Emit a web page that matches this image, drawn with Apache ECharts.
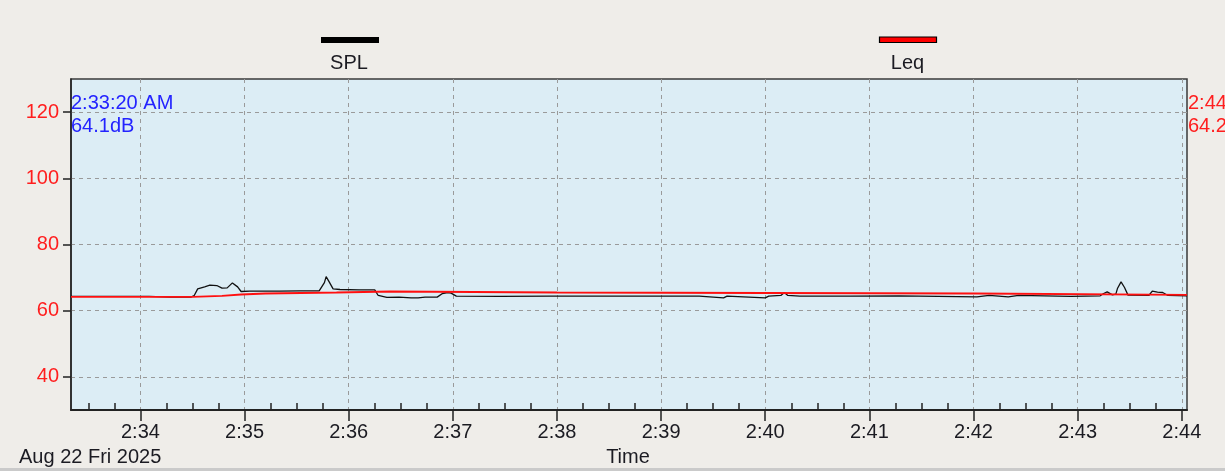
<!DOCTYPE html>
<html><head><meta charset="utf-8">
<script src="https://cdn.jsdelivr.net/npm/echarts@6/dist/echarts.min.js"></script>
<style>html,body{margin:0;padding:0;background:#efede9;overflow:hidden;}#c{width:1225px;height:471px;}</style>
</head><body><div id="c"></div>
<script>
// ---- data ----
const seriesNames = ['SPL', 'Leq'];
const splTimes = ['2:33:20','2:33:37','2:34:05','2:34:17','2:34:29','2:34:31','2:34:33','2:34:37','2:34:40','2:34:44','2:34:47','2:34:50','2:34:53','2:34:56','2:34:58','2:35:03','2:35:20','2:35:32','2:35:43','2:35:46','2:35:47','2:35:49','2:35:51','2:35:55','2:36:06','2:36:15','2:36:17','2:36:22','2:36:29','2:36:36','2:36:40','2:36:44','2:36:51','2:36:54','2:36:57','2:36:59','2:37:02','2:37:27','2:37:56','2:38:25','2:38:53','2:39:22','2:39:36','2:39:38','2:40:00','2:40:02','2:40:09','2:40:11','2:40:13','2:40:20','2:40:49','2:41:17','2:42:02','2:42:09','2:42:20','2:42:26','2:42:56','2:43:13','2:43:15','2:43:17','2:43:20','2:43:22','2:43:23','2:43:25','2:43:27','2:43:29','2:43:41','2:43:43','2:43:46','2:43:49','2:43:52','2:44:03'];
const splValues = [64.3,64.3,64.3,64.1,64.1,64.6,66.6,67.2,67.7,67.6,66.8,66.9,68.4,67.2,65.8,65.9,65.9,66.0,66.0,68.5,70.3,68.5,66.6,66.4,66.3,66.3,64.6,64.0,64.1,63.9,63.9,64.1,64.1,65.2,65.5,65.3,64.4,64.3,64.4,64.4,64.4,64.4,63.9,64.4,63.9,64.4,64.6,65.5,64.6,64.4,64.4,64.5,64.2,64.6,64.2,64.6,64.3,64.5,65.2,65.7,64.8,65.0,66.8,68.7,67.0,64.7,64.6,65.9,65.6,65.5,64.6,64.5];
const leqTimes = ['2:33:20','2:34:30','2:34:47','2:34:58','2:35:12','2:35:53','2:36:24','2:38:00','2:42:01','2:44:03'];
const leqValues = [64.2,64.5,64.9,65.2,65.5,65.8,65.5,65.2,64.8,64.8];
const xTickLabels = ['2:34','2:35','2:36','2:37','2:38','2:39','2:40','2:41','2:42','2:43','2:44'];
const yTickValues = [40, 60, 80, 100, 120];
const xRange = ['2:33:20', '2:44:03'];
const yRange = [30, 130];
const cursorLeft = ['2:33:20 AM', '64.1dB'];
const cursorRight = ['2:44:03 AM', '64.2dB'];
const dateLabel = 'Aug 22 Fri 2025';
const xAxisName = 'Time';

function toSec(t){ const p = t.split(':').map(Number); return p[0]*3600 + p[1]*60 + (p[2]||0); }
function fmt(s){ const h = Math.floor(s/3600), m = Math.floor((s%3600)/60); return h + ':' + String(m).padStart(2,'0'); }

const xMin = toSec(xRange[0]), xMax = toSec(xRange[1]);
const majorX = xTickLabels.map(toSec);
const minorX = [];
for (let s = Math.ceil(xMin/15)*15; s <= xMax; s += 15) { if (s % 60 !== 0) minorX.push(s); }

const splData = splTimes.map((t,i) => [toSec(t), splValues[i]]);
const leqData = leqTimes.map((t,i) => [toSec(t), leqValues[i]]);

const FONT = 'Liberation Sans, Arial, sans-serif';
const chart = echarts.init(document.getElementById('c'), null, {renderer:'canvas'});
chart.setOption({
  backgroundColor: '#efede9',
  animation: false,
  grid: { left: 71, right: 38, top: 79, bottom: 61, show: true, backgroundColor: '#dcedf5', borderColor: '#3a3a3a', borderWidth: 1.5 },
  xAxis: [
    { type: 'value', min: xMin, max: xMax, position: 'bottom',
      axisLine: { show: true, lineStyle: { color: '#222', width: 2 } },
      axisTick: { show: true, inside: false, length: 11, customValues: majorX, lineStyle: { color: '#222', width: 1.5 } },
      axisLabel: { show: true, customValues: majorX, formatter: v => fmt(v), color: '#1b1b22', fontSize: 20, fontFamily: FONT, margin: 12 },
      splitLine: { show: true, lineStyle: { color: '#9a9a9a', type: [4,4], width: 1 } } },
    { type: 'value', min: xMin, max: xMax, position: 'bottom', gridIndex: 0,
      axisLine: { show: false },
      axisTick: { show: true, inside: true, length: 7, customValues: minorX, lineStyle: { color: '#222', width: 1.5 } },
      axisLabel: { show: false }, splitLine: { show: false } }
  ],
  yAxis: {
    type: 'value', min: yRange[0], max: yRange[1],
    axisLine: { show: true, lineStyle: { color: '#222', width: 1.5 } },
    axisTick: { show: true, inside: false, length: 8, customValues: yTickValues, lineStyle: { color: '#222', width: 1.5 } },
    axisLabel: { customValues: yTickValues, color: '#ff1e1e', fontSize: 20, fontFamily: FONT, margin: 12 },
    splitLine: { show: true, lineStyle: { color: '#9a9a9a', type: [4,4], width: 1 } }
  },
  series: [
    { name: seriesNames[0], type: 'line', data: splData, xAxisIndex: 0, showSymbol: false, symbol: 'none',
      lineStyle: { color: '#111', width: 1.3 }, z: 2 },
    { name: seriesNames[1], type: 'line', data: leqData, xAxisIndex: 0, step: 'end', showSymbol: false, symbol: 'none',
      lineStyle: { color: '#ff1010', width: 1.8 }, z: 3 }
  ],
  graphic: [
    { type: 'rect', shape: { x: 321, y: 37, width: 58, height: 6 }, style: { fill: '#000' } },
    { type: 'text', x: 349, y: 63, style: { text: seriesNames[0], fill: '#1b1b22', font: '20px ' + FONT, align: 'center', verticalAlign: 'middle' } },
    { type: 'rect', shape: { x: 879.5, y: 37, width: 57, height: 5.5 }, style: { fill: '#ff0000', stroke: '#000', lineWidth: 1.2 } },
    { type: 'text', x: 907.5, y: 63, style: { text: seriesNames[1], fill: '#1b1b22', font: '20px ' + FONT, align: 'center', verticalAlign: 'middle' } },
    { type: 'text', x: 71, y: 103, z: 10, style: { text: cursorLeft[0], fill: '#2323ff', font: '20px ' + FONT, align: 'left', verticalAlign: 'middle' } },
    { type: 'text', x: 71, y: 126, z: 10, style: { text: cursorLeft[1], fill: '#2323ff', font: '20px ' + FONT, align: 'left', verticalAlign: 'middle' } },
    { type: 'text', x: 1188, y: 103, z: 10, style: { text: cursorRight[0], fill: '#ff1e1e', font: '20px ' + FONT, align: 'left', verticalAlign: 'middle' } },
    { type: 'text', x: 1188, y: 126, z: 10, style: { text: cursorRight[1], fill: '#ff1e1e', font: '20px ' + FONT, align: 'left', verticalAlign: 'middle' } },
    { type: 'text', x: 19, y: 457, style: { text: dateLabel, fill: '#1b1b22', font: '20px ' + FONT, align: 'left', verticalAlign: 'middle' } },
    { type: 'text', x: 628, y: 457, style: { text: xAxisName, fill: '#1b1b22', font: '20px ' + FONT, align: 'center', verticalAlign: 'middle' } },
    { type: 'rect', shape: { x: 0, y: 468, width: 1225, height: 3 }, style: { fill: '#cacaca' } }
  ]
});
</script></body></html>
